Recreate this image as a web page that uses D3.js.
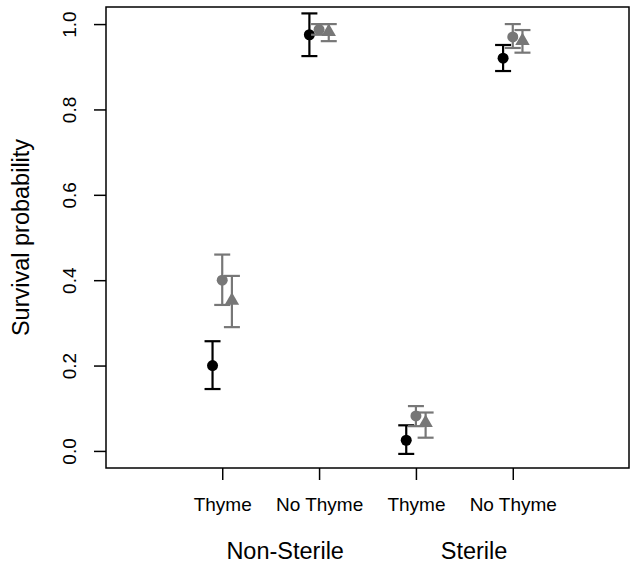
<!DOCTYPE html>
<html>
<head>
<meta charset="utf-8">
<script src="https://cdn.jsdelivr.net/npm/d3@7"></script>
<style>
  body { margin: 0; background: #fff; }
  svg text { font-family: "Liberation Sans", Arial, Helvetica, sans-serif; fill: #000; }
</style>
</head>
<body>
<div class="content"></div>
<script>
//--> Data
const treatments = ["Thyme", "No Thyme", "Thyme", "No Thyme"];
const groups = ["Non-Sterile", "Sterile"];
const groupLabelPos = [1.65, 3.6];
const yTicks = [0, 0.2, 0.4, 0.6, 0.8, 1.0];

// three series per treatment: estimate, lower and upper bound
const blackEst = [0.20, 0.975, 0.025, 0.92];
const blackLo = [0.145, 0.925, -0.007, 0.89];
const blackHi = [0.257, 1.025, 0.06, 0.951];

const greyCircleEst = [0.40, 0.987, 0.082, 0.97];
const greyCircleLo = [0.342, 0.975, 0.058, 0.944];
const greyCircleHi = [0.46, 1.0, 0.105, 1.0];

const greyTriEst = [0.352, 0.982, 0.066, 0.961];
const greyTriLo = [0.29, 0.96, 0.031, 0.933];
const greyTriHi = [0.41, 1.0, 0.09, 0.986];

//--> Set up main elements
const width = 633;
const height = 565;
const margin = { top: 7, right: 4, bottom: 97, left: 106 };

const svg = d3
  .select(".content")
  .append("svg")
  .attr("width", width)
  .attr("height", height);

// R style: xlim 0..5, ylim 0..1 with 4% padding
const x = d3
  .scaleLinear()
  .domain([-0.2, 5.2])
  .range([margin.left, width - margin.right]);

const y = d3
  .scaleLinear()
  .domain([-0.04, 1.04])
  .range([height - margin.bottom, margin.top]);

const series = [
  { est: blackEst, lo: blackLo, hi: blackHi, shift: -0.1, color: "#000", shape: d3.symbolCircle },
  { est: greyCircleEst, lo: greyCircleLo, hi: greyCircleHi, shift: 0, color: "#777", shape: d3.symbolCircle },
  { est: greyTriEst, lo: greyTriLo, hi: greyTriHi, shift: 0.1, color: "#777", shape: d3.symbolTriangle },
];

//--> Axes
const xAxis = svg
  .append("g")
  .attr("transform", `translate(0, ${y(-0.04)})`)
  .call(
    d3.axisBottom(x)
      .tickValues([1, 2, 3, 4])
      .tickFormat((d, i) => treatments[i])
      .tickSize(12)
      .tickPadding(18)
  );
xAxis.select(".domain").remove();
xAxis.selectAll("line").attr("stroke-width", 1.5);
xAxis.selectAll("text").attr("font-size", 19).attr("fill", "#000");

const yAxis = svg
  .append("g")
  .attr("transform", `translate(${x(-0.2)}, 0)`)
  .call(
    d3.axisLeft(y)
      .tickValues(yTicks)
      .tickFormat(d3.format(".1f"))
      .tickSize(12)
  );
yAxis.select(".domain").remove();
yAxis.selectAll("line").attr("stroke-width", 1.5);

// tick groups are already translated, so rotate labels in place
yAxis
  .selectAll(".tick text")
  .attr("font-size", 19)
  .attr("fill", "#000")
  .attr("x", 0)
  .attr("y", 0)
  .attr("dy", 0)
  .attr("text-anchor", "middle")
  .attr("dominant-baseline", "middle")
  .attr("transform", "translate(-35, 0) rotate(-90)");

//--> Box
svg
  .append("rect")
  .attr("x", x(-0.2))
  .attr("y", y(1.04))
  .attr("width", x(5.2) - x(-0.2))
  .attr("height", y(-0.04) - y(1.04))
  .attr("fill", "none")
  .attr("stroke", "#000")
  .attr("stroke-width", 1.5);

//--> Labels
svg
  .append("text")
  .attr("transform", `translate(23, ${(y(-0.04) + y(1.04)) / 2}) rotate(-90)`)
  .attr("text-anchor", "middle")
  .attr("dominant-baseline", "middle")
  .attr("font-size", 23.5)
  .text("Survival probability");

svg
  .selectAll(".group-label")
  .data(groups)
  .join("text")
  .attr("class", "group-label")
  .attr("x", (d, i) => x(groupLabelPos[i]))
  .attr("y", 559)
  .attr("text-anchor", "middle")
  .attr("font-size", 23.5)
  .text(d => d);

//--> Error bars and points
const capHalf = 8;
series.forEach(s => {
  const g = svg.append("g");
  const idx = d3.range(treatments.length);
  const px = i => x(i + 1 + s.shift);

  g.selectAll(".bar")
    .data(idx)
    .join("line")
    .attr("x1", px)
    .attr("x2", px)
    .attr("y1", i => y(s.lo[i]))
    .attr("y2", i => y(s.hi[i]))
    .attr("stroke", s.color)
    .attr("stroke-width", 2.2);

  ["lo", "hi"].forEach(k => {
    g.selectAll(".cap-" + k)
      .data(idx)
      .join("line")
      .attr("x1", i => px(i) - capHalf)
      .attr("x2", i => px(i) + capHalf)
      .attr("y1", i => y(s[k][i]))
      .attr("y2", i => y(s[k][i]))
      .attr("stroke", s.color)
      .attr("stroke-width", 2.2);
  });

  const sym = d3.symbol().type(s.shape).size(s.shape === d3.symbolTriangle ? 90 : 95);
  g.selectAll(".pt")
    .data(idx)
    .join("path")
    .attr("d", sym)
    .attr("transform", i => `translate(${px(i)}, ${y(s.est[i])})`)
    .attr("fill", s.color);
});
</script>
</body>
</html>
